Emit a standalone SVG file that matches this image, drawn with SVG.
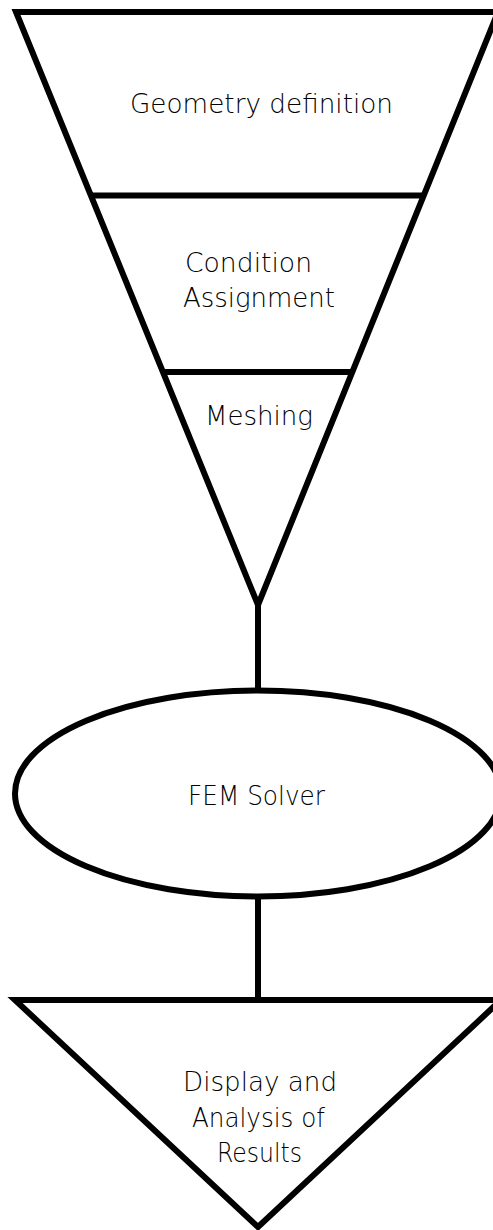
<svg xmlns="http://www.w3.org/2000/svg" width="493" height="1230" viewBox="0 0 493 1230">
<style>
.sh{fill:none;stroke:#000;stroke-width:6;stroke-linejoin:miter}
.ln{stroke:#000;stroke-width:6;fill:none}
.tx{font-family:"DejaVu Sans","Liberation Sans",sans-serif;font-weight:200;font-size:27px;fill:#000}
</style>
<rect width="493" height="1230" fill="#fff"/>
<g id="connectors">
<line class="ln" x1="258" y1="600" x2="258" y2="691"/>
<line class="ln" x1="258" y1="896" x2="258" y2="1001"/>
</g>
<g id="funnel">
<polygon class="sh" points="16,12 498,12 258,605"/>
</g>
<g id="geometry">
<text class="tx" x="130" y="113" textLength="263" lengthAdjust="spacingAndGlyphs">Geometry definition</text>
</g>
<g id="condition">
<line class="ln" x1="92" y1="195.5" x2="424" y2="195.5"/>
<text class="tx" x="185" y="272" textLength="127" lengthAdjust="spacingAndGlyphs">Condition</text>
<text class="tx" x="183" y="307" textLength="152" lengthAdjust="spacingAndGlyphs">Assignment</text>
</g>
<g id="meshing">
<line class="ln" x1="164" y1="372" x2="353" y2="372"/>
<text class="tx" x="205" y="425" textLength="108" lengthAdjust="spacingAndGlyphs">Meshing</text>
</g>
<g id="solver">
<ellipse class="sh" cx="258" cy="793.5" rx="243" ry="103"/>
<text class="tx" x="188" y="805" textLength="137" lengthAdjust="spacingAndGlyphs">FEM Solver</text>
</g>
<g id="results">
<polygon class="sh" points="15,1000 501,1000 258,1227"/>
<text class="tx" x="183" y="1091" textLength="154" lengthAdjust="spacingAndGlyphs">Display and</text>
<text class="tx" x="192" y="1127" textLength="133" lengthAdjust="spacingAndGlyphs">Analysis of</text>
<text class="tx" x="217" y="1162" textLength="85" lengthAdjust="spacingAndGlyphs">Results</text>
</g>
</svg>
